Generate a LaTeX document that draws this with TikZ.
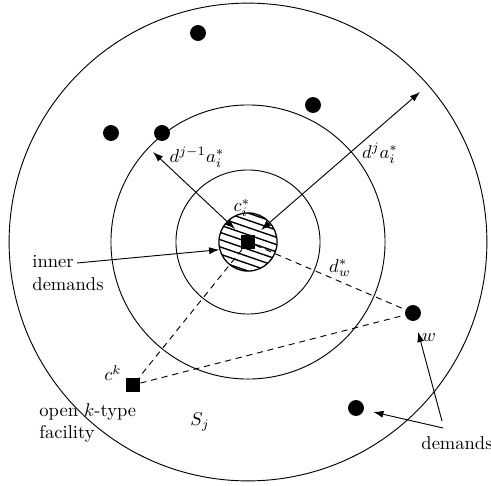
\documentclass[tikz,border=0pt]{standalone}
\usetikzlibrary{arrows.meta}
\begin{document}
\begin{tikzpicture}[x=0.54pt,y=-0.54pt,line width=0.5pt,
  >={Latex[length=5.5pt,width=3.8pt]},
  sq/.style={fill=black,draw=none,minimum size=7.6pt,inner sep=0pt},
  dot/.style={circle,fill=black,draw=none,minimum size=8.6pt,inner sep=0pt},
  lbl/.style={inner sep=0pt,font=\normalsize},
  dashline/.style={dashed,dash pattern=on 3.3pt off 2.6pt}]
\useasboundingbox (0,0) rectangle (491,486);
% rings
\coordinate (o) at (248,242);
\draw (o) circle (129pt);
\draw (o) circle (74pt);
\draw (o) circle (38.9pt);
% hatched disc
\node[circle,draw,line width=0.7pt,minimum size=31.4pt,inner sep=0pt] (hc) at (o) {};
\begin{scope}
  \clip (o) circle (15.7pt);
  \begin{scope}[shift={(o)},rotate=-19]
    \foreach \k in {-5,...,5} \draw[line width=0.75pt] (-22pt,\k*3.7pt) -- (22pt,\k*3.7pt);
  \end{scope}
\end{scope}
\node[sq] (c) at (o) {};
% demands
\node[dot] (p1) at (198,33) {};
\node[dot] (p2) at (111,133) {};
\node[dot] (p3) at (162,133) {};
\node[dot] (p4) at (313,105) {};
\node[dot] (w) at (413,313) {};
\node[dot] (p6) at (356,408) {};
% facility
\node[sq] (ck) at (133,385) {};
% dashed connections
\draw[dashline] (c) -- (w);
\draw[dashline] (c) -- (ck);
\draw[dashline] (ck) -- (w);
% radius arrows
\coordinate (r1s) at (235,229);
\coordinate (r1e) at (153,152);
\coordinate (r2s) at (261,230);
\coordinate (r2e) at (420,92);
\draw[<->] (r1s) -- (r1e);
\draw[<->] (r2s) -- (r2e);
% labels
\node[lbl] (lci) at (242,208) {$c^*_i$};
\node[lbl] (ldw) at (340,268) {$d^*_w$};
\node[lbl] (lr1) at (197,157) {$d^{j-1}a^*_i$};
\node[lbl] (lr2) at (380,153) {$d^{j}a^*_i$};
\node[lbl] (lck) at (113,373) {$c^k$};
\node[lbl] (lw) at (429,338) {$w$};
\node[lbl] (lsj) at (200,422) {$S_j$};
\node[lbl,align=left,anchor=west] (inner) at (32,273) {inner\\demands};
\node[lbl,align=left,anchor=west] (open) at (39,423) {open $k$-type\\facility};
\node[lbl,anchor=west] (dem) at (421,443) {demands};
% inner demands arrow
\coordinate (ie) at (77,263);
\draw[->] (ie) -- (hc.195);
% demands arrows
\coordinate (d1) at (442,421);
\coordinate (d2) at (443,428);
\draw[->,shorten >=6pt] (d1) -- (w);
\draw[->,shorten >=5pt] (d2) -- (p6);
\end{tikzpicture}
\end{document}
